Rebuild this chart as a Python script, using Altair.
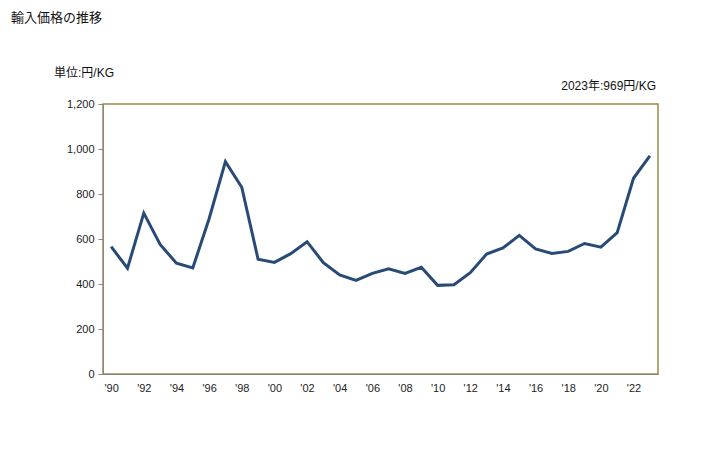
import altair as alt
import pandas as pd

years = list(range(1990, 2024))
values = [566, 470, 715, 576, 492, 471, 690, 944, 830, 510, 496, 535, 588, 495, 440, 416,
          447, 468, 447, 474, 394, 397, 450, 533, 560, 616, 556, 536, 545, 580, 564, 628, 870, 969]
x_ticks = list(range(1990, 2023, 2))
y_ticks = [0, 200, 400, 600, 800, 1000, 1200]

title_text = "輸入価格の推移"
unit_text = "単位:円/KG"
note_text = "2023年:969円/KG"

df = pd.DataFrame({"year": years, "value": values})
FONT = "Liberation Sans, Noto Sans CJK JP"

base = alt.Chart(df)

line = base.mark_line(color="#284a76", strokeWidth=3).encode(
    x=alt.X("year:Q", scale=alt.Scale(domain=[1989.5, 2023.5], nice=False, zero=False),
            axis=alt.Axis(values=x_ticks, labelExpr="\"'\" + slice(toString(datum.value), 2)",
                          title=None, grid=False, ticks=False, domainColor="#888888", zindex=1,
                          labelColor="#222222", labelFontSize=11, labelPadding=8, labelFont=FONT)),
    y=alt.Y("value:Q", scale=alt.Scale(domain=[0, 1200], nice=False),
            axis=alt.Axis(values=y_ticks, format=",.0f", title=None, grid=False, tickSize=5,
                          tickColor="#888888", domainColor="#888888", labelColor="#222222", zindex=1,
                          labelFontSize=11, labelPadding=4, labelFont=FONT)),
)

t_title = alt.Chart(pd.DataFrame({"t": [title_text]})).mark_text(
    align="left", baseline="middle", fontSize=13, font=FONT, color="#111111"
).encode(text="t:N", x=alt.value(-92), y=alt.value(-86))

t_unit = alt.Chart(pd.DataFrame({"t": [unit_text]})).mark_text(
    align="left", baseline="middle", fontSize=12, font=FONT, color="#111111"
).encode(text="t:N", x=alt.value(-49), y=alt.value(-31))

t_note = alt.Chart(pd.DataFrame({"t": [note_text]})).mark_text(
    align="right", baseline="middle", fontSize=12, font=FONT, color="#111111"
).encode(text="t:N", x=alt.value(553), y=alt.value(-18))

chart = alt.layer(line, t_title, t_unit, t_note).properties(
    width=555, height=270,
    autosize=alt.AutoSizeParams(type="none"),
    padding={"left": 95, "top": 96, "right": 60, "bottom": 60},
).configure_view(stroke="#9a8c48", strokeWidth=1.5)

chart.save("out.html", embed_options={"renderer": "svg", "actions": False})
